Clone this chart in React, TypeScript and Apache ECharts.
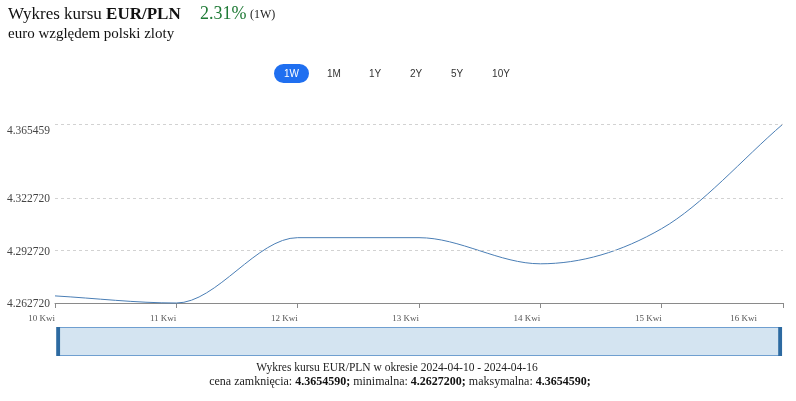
import React, { useEffect, useRef } from 'react';
import * as echarts from 'echarts';

const categories = ['10 Kwi', '11 Kwi', '12 Kwi', '13 Kwi', '14 Kwi', '15 Kwi', '16 Kwi'];
const rates = [4.2668, 4.26272, 4.30022, 4.30022, 4.28522, 4.3054, 4.365459];
const yMin = 4.26272;
const yMax = 4.365459;
const yTickValues = [4.26272, 4.29272, 4.32272, 4.365459];
const gridLineValues = [4.29272, 4.32272, 4.365459];
const rangeButtons = ['1W', '1M', '1Y', '2Y', '5Y', '10Y'];
const closePrice = '4.3654590';
const minPrice = '4.2627200';
const maxPrice = '4.3654590';
const changePct = '2.31%';

const SERIF = '"Liberation Serif", "DejaVu Serif", serif';
const SANS = '"Liberation Sans", Arial, sans-serif';
const LINE_COLOR = '#4a7eb5';

// Monotone cubic (Fritsch–Carlson) path through pixel points
function monotonePath(pts: number[][]): string {
  const n = pts.length;
  const delta: number[] = [];
  const m: number[] = [];
  for (let i = 0; i < n - 1; i++) {
    delta[i] = (pts[i + 1][1] - pts[i][1]) / (pts[i + 1][0] - pts[i][0]);
  }
  m[0] = delta[0];
  m[n - 1] = delta[n - 2];
  for (let i = 1; i < n - 1; i++) {
    m[i] = delta[i - 1] * delta[i] <= 0 ? 0 : (delta[i - 1] + delta[i]) / 2;
  }
  for (let i = 0; i < n - 1; i++) {
    if (Math.abs(delta[i]) < 1e-9) {
      m[i] = 0;
      m[i + 1] = 0;
    } else {
      const a = m[i] / delta[i];
      const b = m[i + 1] / delta[i];
      const s = a * a + b * b;
      if (s > 9) {
        const t = 3 / Math.sqrt(s);
        m[i] = a * t * delta[i];
        m[i + 1] = b * t * delta[i];
      }
    }
  }
  let d = `M${pts[0][0]},${pts[0][1]}`;
  for (let i = 0; i < n - 1; i++) {
    const [x0, y0] = pts[i];
    const [x1, y1] = pts[i + 1];
    const dx = (x1 - x0) / 3;
    d += ` C${x0 + dx},${y0 + m[i] * dx} ${x1 - dx},${y1 - m[i + 1] * dx} ${x1},${y1}`;
  }
  return d;
}

export default function App() {
  const ref = useRef<HTMLDivElement>(null);
  useEffect(() => {
    if (!ref.current) return;
    const chart = echarts.init(ref.current, undefined, { renderer: 'svg' });
    const btnX = [291.5, 334, 375, 416, 457, 501];
    const graphic: any[] = [
      {
        type: 'text', x: 8, y: 13,
        style: {
          text: '{a|Wykres kursu }{b|EUR/PLN}',
          verticalAlign: 'middle',
          rich: {
            a: { fontSize: 17, fontFamily: SERIF, fill: '#111' },
            b: { fontSize: 17, fontFamily: SERIF, fill: '#111', fontWeight: 'bold' },
          },
        },
      },
      { type: 'text', x: 200, y: 13, style: { text: changePct, fontSize: 18, fontFamily: SERIF, fill: '#1f7a36', verticalAlign: 'middle' } },
      { type: 'text', x: 250, y: 14, style: { text: '(1W)', fontSize: 12, fontFamily: SERIF, fill: '#222', verticalAlign: 'middle' } },
      { type: 'text', x: 8, y: 33, style: { text: 'euro względem polski zloty', fontSize: 15, fontFamily: SERIF, fill: '#111', verticalAlign: 'middle' } },
      { type: 'rect', shape: { x: 274, y: 64, width: 35, height: 19, r: 9.5 }, style: { fill: '#1f6ff0' } },
      ...rangeButtons.map((b, i) => ({
        type: 'text', x: btnX[i], y: 73.5,
        style: { text: b, fontSize: 10, fontFamily: SANS, fill: i === 0 ? '#fff' : '#333', align: 'center', verticalAlign: 'middle' },
      })),
      {
        type: 'text', x: 397, y: 367,
        style: { text: 'Wykres kursu EUR/PLN w okresie 2024-04-10 - 2024-04-16', fontSize: 11.5, fontFamily: SERIF, fill: '#222', align: 'center', verticalAlign: 'middle' },
      },
      {
        type: 'text', x: 400, y: 381,
        style: {
          text: `{n|cena zamknięcia: }{b|${closePrice};}{n| minimalna: }{b|${minPrice};}{n| maksymalna: }{b|${maxPrice};}`,
          align: 'center', verticalAlign: 'middle',
          rich: {
            n: { fontSize: 12, fontFamily: SERIF, fill: '#222' },
            b: { fontSize: 12, fontFamily: SERIF, fill: '#111', fontWeight: 'bold' },
          },
        },
      },
    ];

    chart.setOption({
      animation: false,
      grid: { left: 55, right: 13, top: 124, bottom: 98, containLabel: false },
      xAxis: {
        type: 'category',
        data: categories,
        boundaryGap: false,
        axisLine: { lineStyle: { color: '#8a8a8a', width: 1 } },
        axisTick: { show: true, length: 5, lineStyle: { color: '#8a8a8a' } },
        axisLabel: {
          interval: 0,
          align: 'right',
          margin: 10,
          fontSize: 9,
          fontFamily: SERIF,
          color: '#555',
          formatter: (v: string, i: number) => (i === categories.length - 1 ? `{last|${v}}` : v),
          rich: { last: { padding: [0, 26, 0, 0], fontSize: 9, fontFamily: SERIF, color: '#555' } },
        },
        splitLine: { show: false },
      },
      yAxis: {
        type: 'value',
        min: yMin,
        max: yMax,
        axisLine: { show: false },
        axisTick: { show: false },
        splitLine: { show: false },
        axisLabel: {
          customValues: yTickValues,
          margin: 5,
          fontSize: 11.5,
          fontFamily: SERIF,
          color: '#444',
          formatter: (v: number) => (Math.abs(v - yMax) < 1e-9 ? `{top|${v.toFixed(6)}}` : v.toFixed(6)),
          rich: { top: { padding: [12, 0, 0, 0], fontSize: 11.5, fontFamily: SERIF, color: '#444' } },
        },
      },
      dataZoom: [
        {
          type: 'slider',
          xAxisIndex: 0,
          start: 0,
          end: 100,
          left: 57,
          right: 15,
          top: 327,
          height: 29,
          showDetail: false,
          showDataShadow: false,
          brushSelect: false,
          moveHandleSize: 0,
          borderColor: '#6f9fd0',
          backgroundColor: '#d4e4f1',
          fillerColor: '#d4e4f1',
          handleIcon: 'path://M0,0 L4,0 L4,30 L0,30 Z',
          handleSize: '100%',
          handleStyle: { color: '#2d6aa1', borderColor: '#2d6aa1', borderWidth: 0 },
        },
      ],
      series: [
        {
          type: 'line',
          data: rates,
          symbol: 'none',
          silent: true,
          lineStyle: { opacity: 0 },
          markLine: {
            silent: true,
            symbol: 'none',
            precision: 6,
            label: { show: false },
            lineStyle: { type: [3, 3], color: '#d2d2d2', width: 1 },
            data: gridLineValues.map((v) => ({ yAxis: v })),
          },
          z: 1,
        },
        {
          type: 'custom',
          data: rates.map((v, i) => [i, v]),
          encode: { x: 0, y: 1 },
          z: 3,
          renderItem: (params: any, api: any) => {
            if (params.dataIndexInside !== 0) return null;
            const pts = rates.map((v, i) => api.coord([i, v]));
            return {
              type: 'path',
              shape: { pathData: monotonePath(pts) },
              style: { fill: 'none', stroke: LINE_COLOR, lineWidth: 1 },
            };
          },
        },
      ],
      graphic,
    });
    return () => chart.dispose();
  }, []);
  return <div ref={ref} style={{ position: 'fixed', left: 0, top: 0, width: 796, height: 401 }} />;
}
